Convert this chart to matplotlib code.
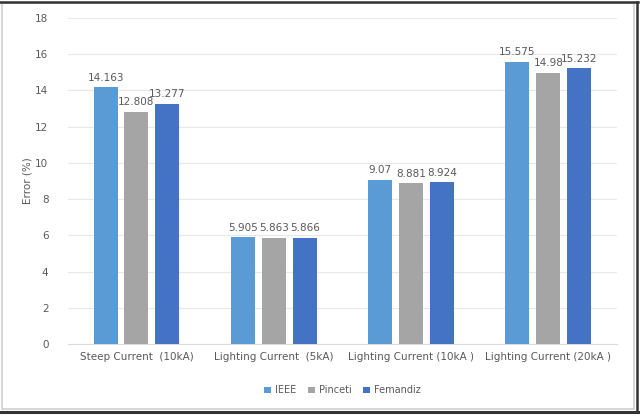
import matplotlib.pyplot as plt
import numpy as np
from matplotlib.patches import Rectangle
from matplotlib.lines import Line2D

# chart data
categories = ['Steep Current  (10kA)', 'Lighting Current  (5kA)',
              'Lighting Current (10kA )', 'Lighting Current (20kA )']
series = ['IEEE', 'Pinceti', 'Femandiz']
ieee = [14.163, 5.905, 9.07, 15.575]
pinceti = [12.808, 5.863, 8.881, 14.98]
femandiz = [13.277, 5.866, 8.924, 15.232]
colors = ['#5B9BD5', '#A5A5A5', '#4472C4']

fig = plt.figure(figsize=(6.4, 4.18), dpi=100)
ax = fig.add_axes([0.106, 0.177, 0.858, 0.78])

x = np.arange(len(categories))
width = 0.175
step = 0.225
txt = '#595959'

for k, (name, vals) in enumerate(zip(series, [ieee, pinceti, femandiz])):
    pos = x + (k - 1) * step
    ax.bar(pos, vals, width, color=colors[k], label=name, zorder=3)
    for p, v in zip(pos, vals):
        ax.text(p, v + 0.25, '{:g}'.format(v), ha='center', va='bottom',
                fontsize=7.5, color=txt, zorder=4)

ax.set_xlim(-0.5, 3.5)
ax.set_ylim(0, 18)
ax.set_yticks(range(0, 19, 2))
ax.set_xticks(x)
ax.set_xticklabels(categories)
ax.tick_params(axis='both', length=0, labelsize=7.5, labelcolor=txt)
ax.tick_params(axis='x', pad=6)
ax.tick_params(axis='y', pad=14)
ax.grid(axis='y', color='#E8E8E8', linewidth=0.8, zorder=0)
for s in ['top', 'right', 'left']:
    ax.spines[s].set_visible(False)
ax.spines['bottom'].set_color('#D9D9D9')
ax.set_ylabel('Error (%)', fontsize=7.5, color=txt, labelpad=2)

ax.legend(loc='upper center', bbox_to_anchor=(0.5, -0.1), ncol=3,
          frameon=False, fontsize=7, labelcolor=txt, handlelength=0.7,
          handleheight=0.7, handletextpad=0.4, columnspacing=1.2)

# picture frame
W, H = 640, 418
fig.patches.append(Rectangle((2 / W, 1 - 409 / H), 632 / W, 406 / H,
                             transform=fig.transFigure, fill=False,
                             edgecolor='#D0D0D0', linewidth=1.2))
fig.lines.append(Line2D([0, 638 / W], [1 - 2 / H, 1 - 2 / H],
                        transform=fig.transFigure, color='#333333', linewidth=1.8))
fig.lines.append(Line2D([0, 638 / W], [1 - 412 / H, 1 - 412 / H],
                        transform=fig.transFigure, color='#333333', linewidth=2.2))
fig.lines.append(Line2D([637 / W, 637 / W], [1 - 412 / H, 1 - 2 / H],
                        transform=fig.transFigure, color='#333333', linewidth=1.8))

fig.savefig('out.png', dpi=100)
